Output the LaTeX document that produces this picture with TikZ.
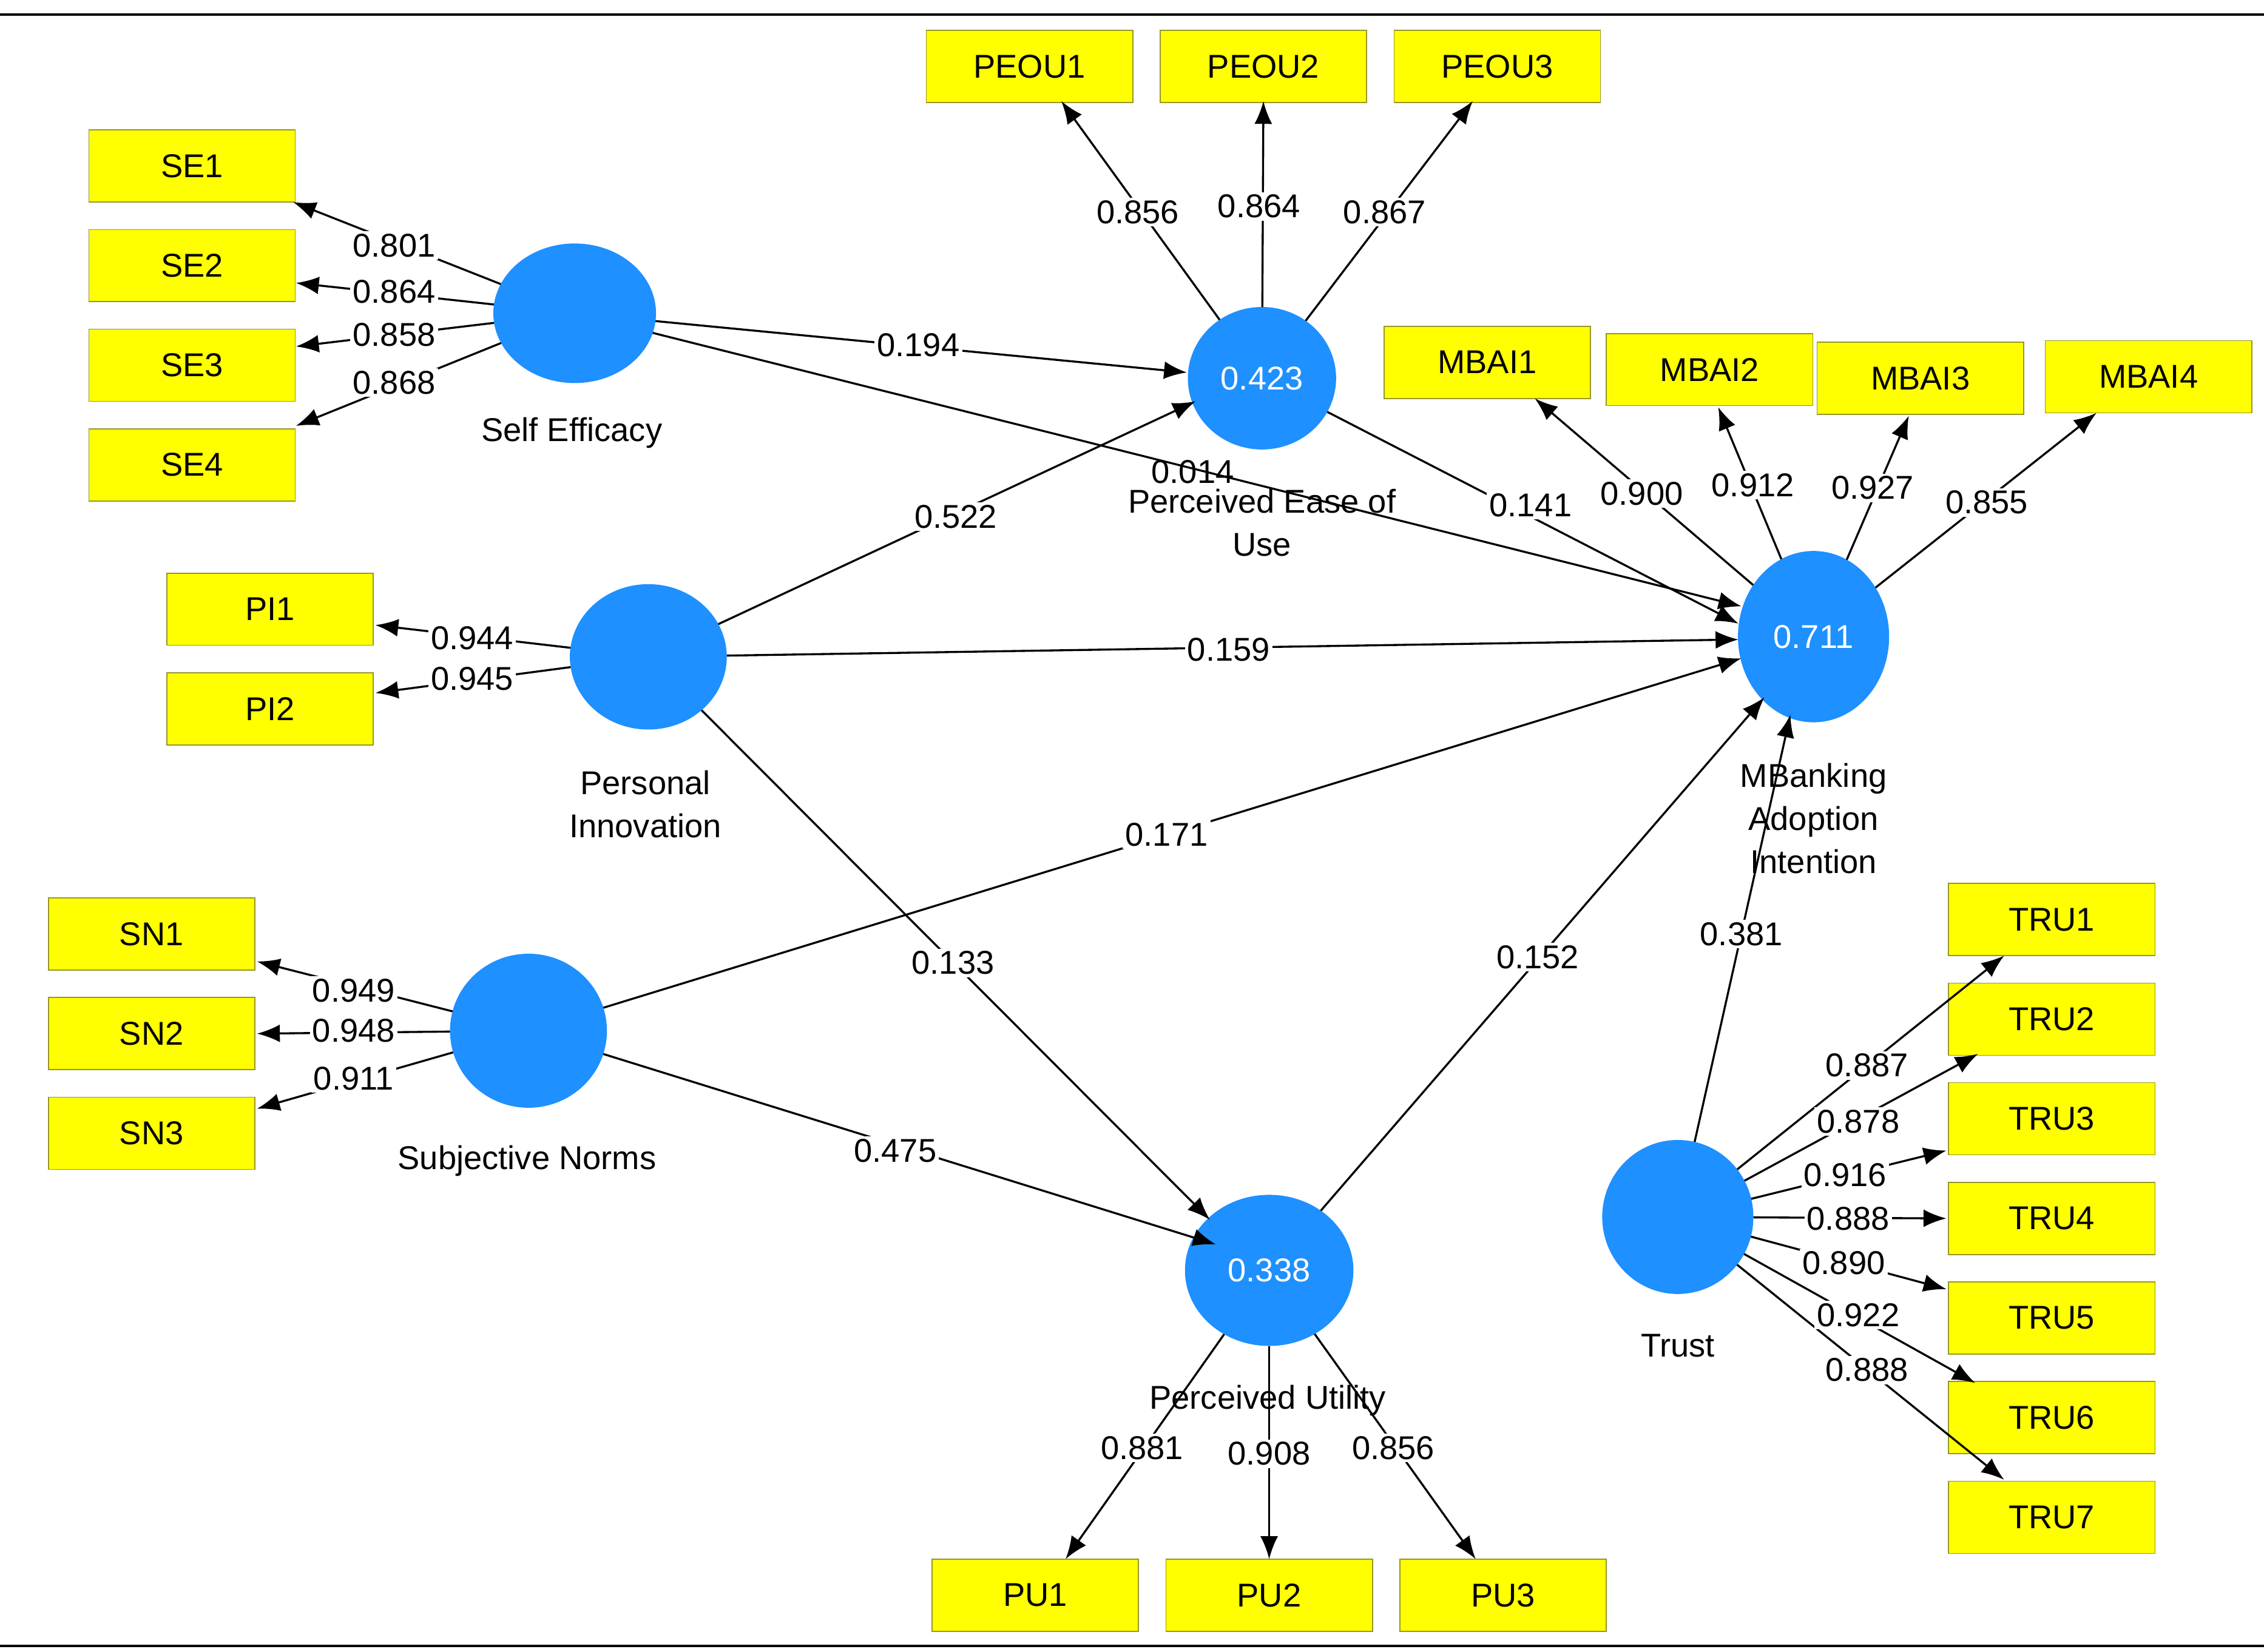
\documentclass[tikz,border=0pt]{standalone}
\usepackage{fontspec}
\setmainfont{Liberation Sans}
\usetikzlibrary{shapes.geometric,arrows.meta}
\definecolor{yb}{RGB}{255,255,0}
\definecolor{yd}{RGB}{150,150,40}
\definecolor{bl}{RGB}{30,144,255}
\begin{document}
\begin{tikzpicture}[x=0.02cm,y=-0.02cm,
  box/.style={draw=yd,fill=yb,minimum width=2.86cm,minimum height=1cm,inner sep=0pt,font=\fontsize{13}{15}\selectfont},
  lv/.style={ellipse,fill=bl,draw=bl,inner sep=0pt,text=white,font=\fontsize{13}{15}\selectfont},
  lab/.style={align=center,font=\fontsize{13}{17}\selectfont},
  num/.style={fill=white,inner sep=1pt,font=\fontsize{13}{15}\selectfont},
  ar/.style={-{Latex[length=9pt,width=7pt]},line width=0.8pt}]
\useasboundingbox (0,0) rectangle (1568,1144);
\draw[line width=1pt] (0,10) -- (1568,10);
\draw[line width=1pt] (0,1140) -- (1568,1140);
% boxes
\foreach \n/\x/\y in {SE1/133/115,SE2/133/184,SE3/133/253,SE4/133/322,PEOU1/713/46,PEOU2/875/46,PEOU3/1037/46,PI1/187/422,PI2/187/491,SN1/105/647,SN2/105/716,SN3/105/785,MBAI1/1030/251,MBAI2/1184/256,MBAI3/1330/262,MBAI4/1488/261,TRU1/1421/637,TRU2/1421/706,TRU3/1421/775,TRU4/1421/844,TRU5/1421/913,TRU6/1421/982,TRU7/1421/1051,PU1/717/1105,PU2/879/1105,PU3/1041/1105}
  \node[box] (\n) at (\x,\y) {\n};
% latent variables
\node[lv,minimum width=2.24cm,minimum height=1.92cm] (se) at (398,217) {};
\node[lv,minimum width=2.04cm,minimum height=1.96cm] (peou) at (874,262) {0.423};
\node[lv,minimum width=2.16cm,minimum height=2.0cm] (pi) at (449,455) {};
\node[lv,minimum width=2.08cm,minimum height=2.36cm] (mb) at (1256,441) {0.711};
\node[lv,minimum width=2.16cm,minimum height=2.12cm] (sn) at (366,714) {};
\node[lv,minimum width=2.32cm,minimum height=2.08cm] (pu) at (879,880) {0.338};
\node[lv,minimum width=2.08cm,minimum height=2.12cm] (tr) at (1162,843) {};
% arrow end coordinates
\foreach \n/\x/\y in {se1/203/140,se2/205/196,se3/205/240,se4/205/295,pi1/260/433,pi2/260/480,sn1/178/666,sn2/178/716,sn3/178/768,
 pe1/735/70,pe2/875/70,pe3/1020/70,m1/1063/276,m2/1190/282,m3/1322/288,m4/1452/286,pu1/738/1080,pu2/879/1080,pu3/1022/1080,
 t1/1388/662,t2/1370/730,t3/1348/797,t4/1348/844,t5/1348/893,t6/1368/958,t7/1388/1025,
 mbA/1206/420,mbB/1204/432,mbC/1204/443,mbD/1206/456,mbE/1222/483,mbF/1240/495,peA/822/258,peB/828/278,puA/838/845,puB/842/862}
  \coordinate (\n) at (\x,\y);
% outer loadings
\foreach \a/\b in {se/se1,se/se2,se/se3,se/se4,pi/pi1,pi/pi2,sn/sn1,sn/sn2,sn/sn3,peou/pe1,peou/pe2,peou/pe3,mb/m1,mb/m2,mb/m3,mb/m4,pu/pu1,pu/pu2,pu/pu3,tr/t1,tr/t2,tr/t3,tr/t4,tr/t5,tr/t6,tr/t7}
  \draw[ar] (\a) -- (\b);
% structural paths
\draw[ar] (se) -- (peA);
\draw[ar] (se) -- (mbA);
\draw[ar] (pi) -- (peB);
\draw[ar] (pi) -- (mbC);
\draw[ar] (pi) -- (puA);
\draw[ar] (sn) -- (mbD);
\draw[ar] (sn) -- (puB);
\draw[ar] (peou) -- (mbB);
\draw[ar] (pu) -- (mbE);
\draw[ar] (tr) -- (mbF);
% labels
\foreach \v/\x/\y in {0.801/273/170,0.864/273/202,0.858/273/232,0.868/273/265,0.944/327/442,0.945/327/470,0.949/245/686,0.948/245/714,0.911/245/747,
 0.856/788/147,0.864/872/143,0.867/959/147,0.900/1137/342,0.912/1214/336,0.927/1297/338,0.855/1376/348,0.881/791/1003,0.908/879/1007,0.856/965/1003,
 0.887/1293/738,0.878/1287/777,0.916/1278/814,0.888/1280/844,0.890/1277/875,0.922/1287/911,0.888/1293/949,
 0.194/636/239,0.522/662/358,0.159/851/450,0.133/660/667,0.171/808/578,0.475/620/797,0.141/1060/350,0.152/1065/663,0.381/1206/647}
  \node[num] at (\x,\y) {\v};
\node[num,fill=none] at (826,327) {0.014};
\node[lab] at (396,300) {Self Efficacy};
\node[lab] at (874,362) {Perceived Ease of\\Use};
\node[lab] at (447,557) {Personal\\Innovation};
\node[lab] at (1256,567) {MBanking\\Adoption\\Intention};
\node[lab] at (365,804) {Subjective Norms};
\node[lab] at (878,970) {Perceived Utility};
\node[lab] at (1162,932) {Trust};
\end{tikzpicture}
\end{document}
